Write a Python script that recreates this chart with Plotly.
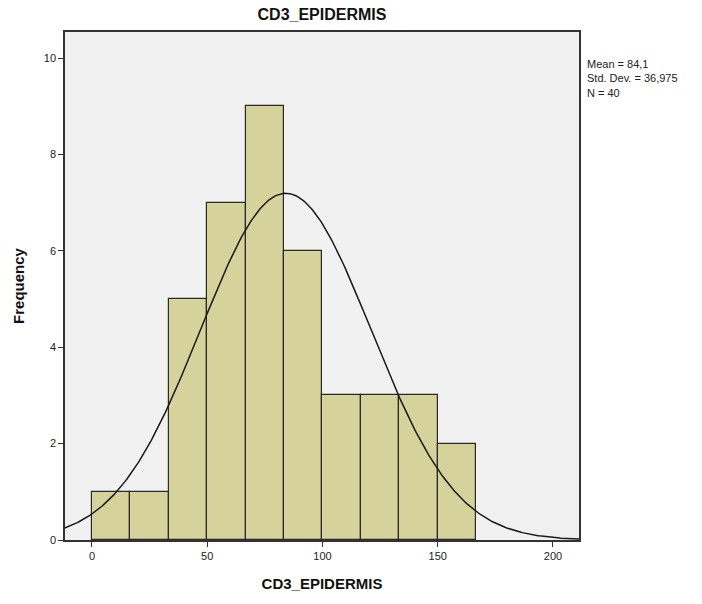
import numpy as np
import plotly.graph_objects as go

# Histogram of CD3_EPIDERMIS (bin width 50/3)
bin_left = [0.0, 16.667, 33.333, 50.0, 66.667, 83.333, 100.0, 116.667, 133.333, 150.0]
counts = [1, 1, 5, 7, 9, 6, 3, 3, 3, 2]
bin_width = 50.0 / 3.0

# Summary statistics shown beside the plot
mean_val = 84.1
std_val = 36.975
n_val = 40

x_ticks = [0, 50, 100, 150, 200]
y_ticks = [0, 2, 4, 6, 8, 10]

centers = [b + bin_width / 2 for b in bin_left]

# Fitted normal curve scaled to counts
xs = np.linspace(-12, 212, 400)
ys = n_val * bin_width / (std_val * np.sqrt(2 * np.pi)) * np.exp(-0.5 * ((xs - mean_val) / std_val) ** 2)

fig = go.Figure()
fig.add_trace(go.Bar(
    x=centers, y=counts, width=bin_width,
    marker=dict(color="#D5D29C", line=dict(color="#2a2a2a", width=1.2)),
    hoverinfo="x+y",
))
fig.add_trace(go.Scatter(
    x=xs, y=ys, mode="lines",
    line=dict(color="#1a1a1a", width=1.5),
    hoverinfo="skip",
))

axis_common = dict(
    showgrid=False, zeroline=False,
    showline=True, linecolor="#333333", linewidth=1.5, mirror=True,
    ticks="outside", ticklen=5, tickcolor="#333333",
    tickfont=dict(family="Arial, Liberation Sans", size=11, color="#222222"),
)

fig.update_layout(
    width=702, height=604,
    margin=dict(l=65, r=123, t=32, b=64),
    paper_bgcolor="white",
    plot_bgcolor="#F1F1F2",
    showlegend=False,
    bargap=0,
    title=dict(
        text="<b>CD3_EPIDERMIS</b>",
        x=(65 + 579) / 2 / 702, xanchor="center",
        y=1 - 14 / 604, yanchor="middle",
        font=dict(family="Arial, Liberation Sans", size=16, color="#111111"),
    ),
    xaxis=dict(
        range=[-11.7, 211.3], tickvals=x_ticks,
        title=dict(text="<b>CD3_EPIDERMIS</b>", standoff=18,
                   font=dict(family="Arial, Liberation Sans", size=15, color="#111111")),
        **axis_common,
    ),
    yaxis=dict(
        range=[0, 10.54], tickvals=y_ticks,
        title=dict(text="<b>Frequency</b>", standoff=16,
                   font=dict(family="Arial, Liberation Sans", size=15, color="#111111")),
        **axis_common,
    ),
    annotations=[dict(
        xref="paper", yref="paper",
        x=1.012, y=0.952, xanchor="left", yanchor="top",
        showarrow=False, align="left",
        text=f"Mean = {str(mean_val).replace('.', ',')}<br>"
             f"Std. Dev. = {str(std_val).replace('.', ',')}<br>N = {n_val}",
        font=dict(family="Arial, Liberation Sans", size=11, color="#222222"),
    )],
)

fig.write_html("out.html")
